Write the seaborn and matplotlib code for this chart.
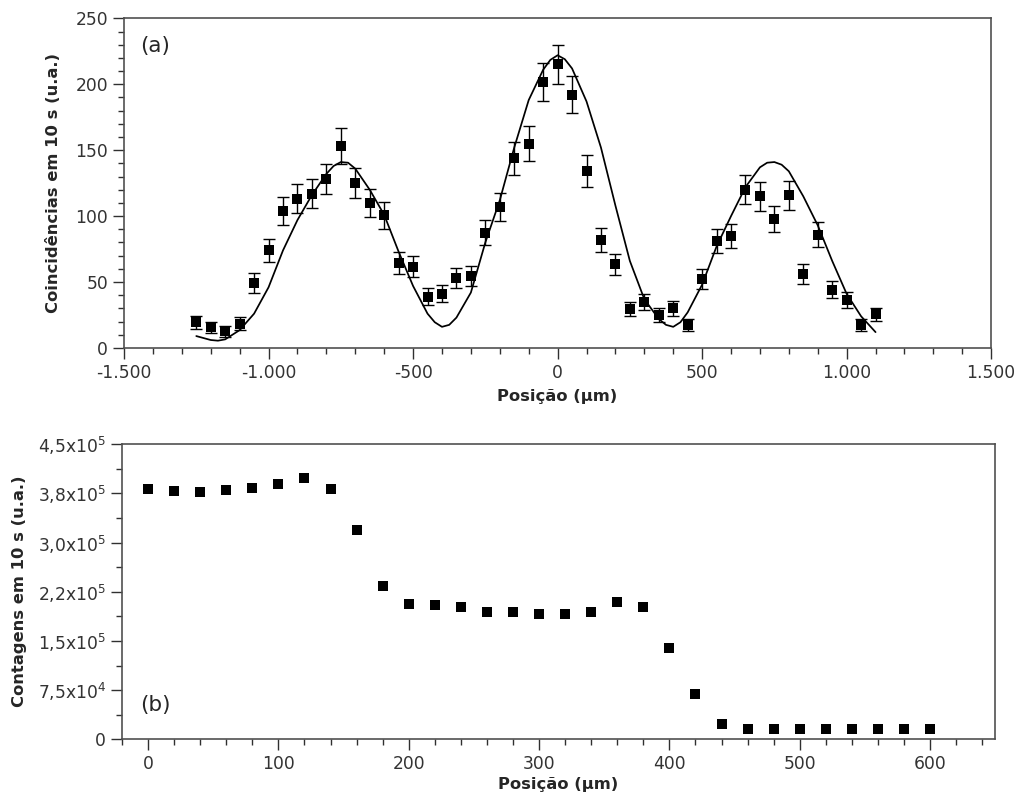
import numpy as np
import seaborn as sns
import matplotlib
matplotlib.use("Agg")
import matplotlib.pyplot as plt
from matplotlib.ticker import MultipleLocator, FixedLocator, FuncFormatter

# (a) coincidence counts vs position, with error bars
pos_a = [-1250, -1200, -1150, -1100, -1050, -1000, -950, -900, -850, -800,
         -750, -700, -650, -600, -550, -500, -450, -400, -350, -300,
         -250, -200, -150, -100, -50, 0, 50, 100, 150, 200,
         250, 300, 350, 400, 450, 500, 550, 600, 650, 700,
         750, 800, 850, 900, 950, 1000, 1050, 1100]
coinc = [19.5, 15.5, 12.5, 18.5, 49, 74, 104, 113, 117, 128,
         153, 125, 110, 100.5, 64.5, 61.5, 39, 41, 53, 54.5,
         87.5, 107, 144, 155, 202, 215, 192, 134, 82, 63.5,
         29.5, 35, 25, 30, 17.5, 52, 81, 85, 120, 115,
         98, 116, 56, 86, 44, 36.5, 17.5, 25.5]
coinc_err = [5, 4.5, 4, 5, 7.5, 9, 10.5, 11, 11, 11.5,
             13.5, 11.5, 10.5, 10, 8.5, 8, 6.5, 6.5, 7.5, 7.5,
             9.5, 10.5, 12.5, 13, 14.5, 14.5, 14, 12, 9, 8,
             5.5, 6, 5, 5.5, 4.5, 7.5, 9, 9, 11, 11,
             10, 11, 7.5, 9.5, 6.5, 6, 4.5, 5]

# theoretical curve
fit_x = [-1250, -1200, -1175, -1150, -1100, -1050, -1000, -950, -900, -850,
         -800, -775, -750, -725, -700, -650, -600, -550, -500, -450,
         -425, -400, -375, -350, -300, -250, -200, -150, -100, -50,
         -25, 0, 25, 50, 100, 150, 200, 250, 300, 350,
         375, 400, 425, 450, 500, 550, 600, 650, 700, 725,
         750, 775, 800, 850, 900, 950, 1000, 1050, 1100]
fit_y = [9, 6, 5.5, 6.5, 13.5, 26, 46, 74, 97, 116,
         132, 138, 141, 140.5, 136, 120, 101, 73, 47, 26,
         19.5, 16, 17.5, 23, 42, 80, 112, 152, 188, 211,
         218.5, 222, 219, 212, 187, 152, 108, 66, 37, 22,
         17.5, 16, 19.5, 27, 48, 77, 100, 122, 137, 140.5,
         141, 139, 134, 115, 93, 66, 41, 24, 12]

# (b) counts vs position
pos_b = [0, 20, 40, 60, 80, 100, 120, 140, 160, 180,
         200, 220, 240, 260, 280, 300, 320, 340, 360, 380,
         400, 420, 440, 460, 480, 500, 520, 540, 560, 580, 600]
counts = [382000, 379000, 377000, 380000, 383000, 389000, 398000, 381000, 319500, 234000,
          206500, 204200, 202100, 194000, 194000, 191000, 190500, 194000, 209800, 202100,
          138700, 69100, 23400, 15200, 15200, 15200, 15200, 15200, 15200, 15200, 15200]

b_ticks = [0, 75000, 150000, 225000, 300000, 375000, 450000]
b_ticklabels = ['0', '7,5x10$^4$', '1,5x10$^5$', '2,2x10$^5$', '3,0x10$^5$', '3,8x10$^5$', '4,5x10$^5$']

sns.set_style("ticks")
plt.rcParams['font.family'] = ['DejaVu Sans']
plt.rcParams['mathtext.default'] = 'regular'

fig = plt.figure(figsize=(10.25, 7.98), dpi=100)
ax1 = fig.add_axes([0.121, 0.564, 0.846, 0.413])
ax2 = fig.add_axes([0.119, 0.0735, 0.852, 0.370])

tick_col = '#333333'
spine_col = '#505050'

for ax in (ax1, ax2):
    for s in ax.spines.values():
        s.set_color(spine_col)
        s.set_linewidth(1.2)
    ax.tick_params(which='both', direction='out', colors='#303030', labelcolor=tick_col,
                   labelsize=12.3, width=1.0)
    ax.tick_params(which='major', length=8)
    ax.tick_params(which='minor', length=4.5)

# ---- panel (a)
sns.lineplot(x=fit_x, y=fit_y, ax=ax1, color='black', linewidth=1.25, sort=False)
ax1.errorbar(pos_a, coinc, yerr=coinc_err, fmt='none', ecolor='black',
             elinewidth=1.0, capsize=4.5, capthick=1.0)
sns.scatterplot(x=pos_a, y=coinc, ax=ax1, marker='s', color='black', s=45,
                linewidth=0, zorder=5)
ax1.set_xlim(-1500, 1500)
ax1.set_ylim(0, 250)
ax1.xaxis.set_major_locator(MultipleLocator(500))
ax1.xaxis.set_minor_locator(MultipleLocator(100))
ax1.yaxis.set_major_locator(MultipleLocator(50))
ax1.yaxis.set_minor_locator(MultipleLocator(10))
ax1.xaxis.set_major_formatter(FuncFormatter(lambda v, p: f"{int(v):,}".replace(',', '.')))
ax1.set_xlabel('Posição (µm)', fontsize=11.8, fontweight='bold')
ax1.set_ylabel('Coincidências em 10 s (u.a.)', fontsize=11.8, fontweight='bold')
ax1.xaxis.set_label_coords(0.5, -0.125)
ax1.yaxis.set_label_coords(-0.073, 0.5)
ax1.text(0.018, 0.915, '(a)', transform=ax1.transAxes, fontsize=15.5, va='center', ha='left')

# ---- panel (b)
sns.scatterplot(x=pos_b, y=counts, ax=ax2, marker='s', color='black', s=55,
                linewidth=0, zorder=5)
ax2.set_xlim(-20, 650)
ax2.set_ylim(0, 450000)
ax2.xaxis.set_major_locator(MultipleLocator(100))
ax2.xaxis.set_minor_locator(MultipleLocator(20))
ax2.yaxis.set_major_locator(FixedLocator(b_ticks))
ax2.yaxis.set_minor_locator(MultipleLocator(37500))
ax2.set_yticklabels(b_ticklabels)
ax2.set_xlabel('Posição (µm)', fontsize=11.8, fontweight='bold')
ax2.set_ylabel('Contagens em 10 s (u.a.)', fontsize=11.8, fontweight='bold')
ax2.xaxis.set_label_coords(0.5, -0.128)
ax2.yaxis.set_label_coords(-0.109, 0.5)
ax2.text(0.021, 0.115, '(b)', transform=ax2.transAxes, fontsize=15.5, va='center', ha='left')

fig.savefig('out.png', dpi=100)
